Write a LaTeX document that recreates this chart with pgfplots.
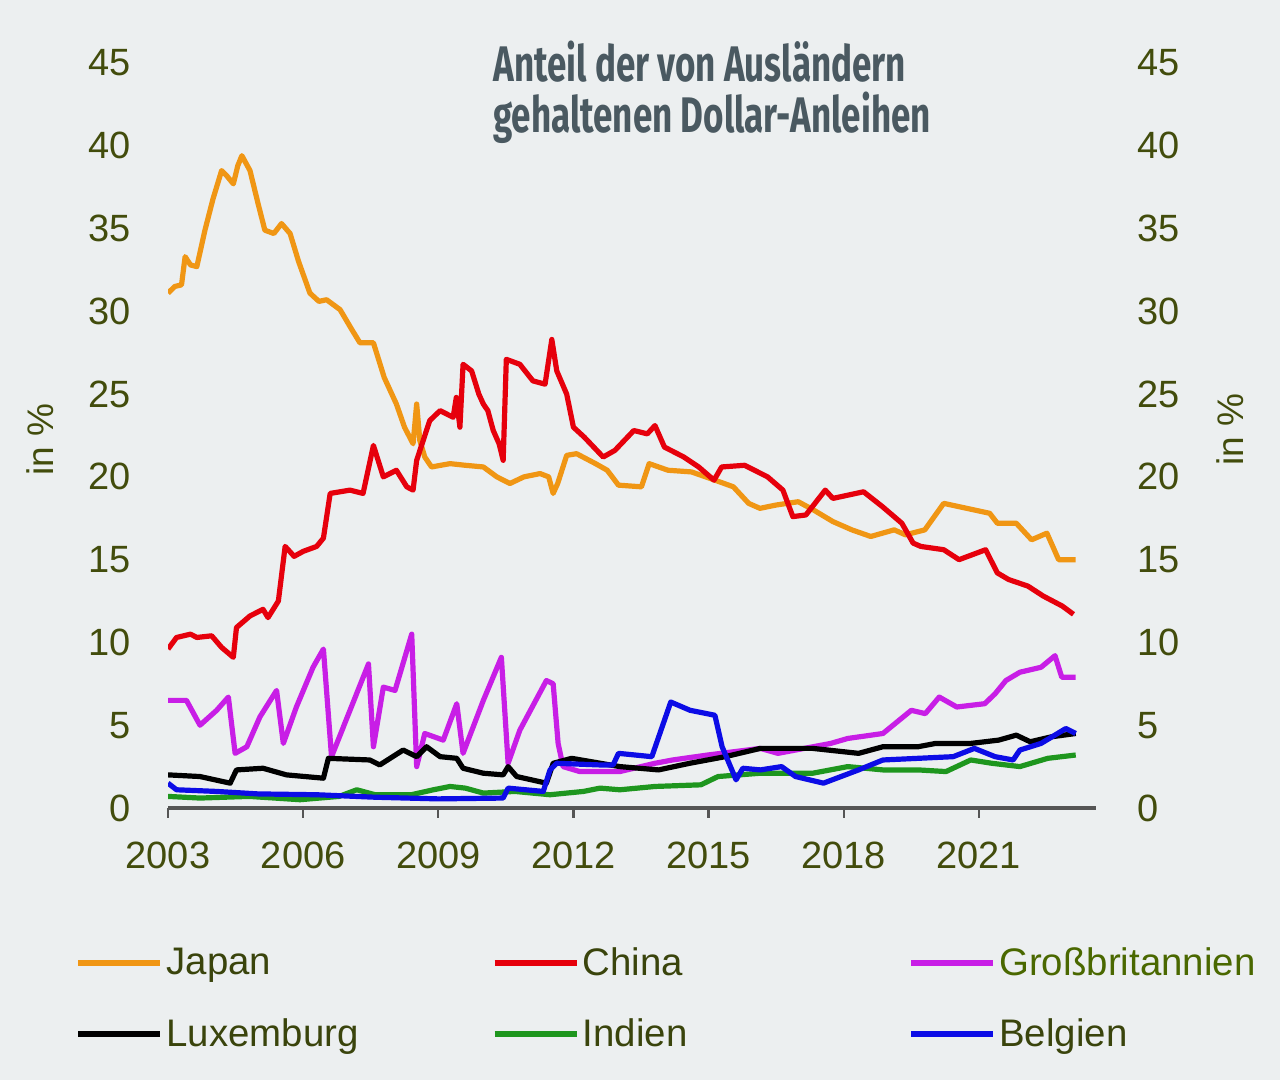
\documentclass[border=0pt]{standalone}
\usepackage{pgfplots}
\pgfplotsset{compat=1.18}
\usepackage{fontspec}
\setmainfont{Liberation Sans}
\newfontfamily\titlefont{Fira Sans}[FakeStretch=0.70]
\definecolor{bgc}{RGB}{236,239,240}
\definecolor{tickc}{RGB}{66,76,12}
\definecolor{legc}{RGB}{58,68,12}
\definecolor{gbc}{RGB}{74,104,0}
\definecolor{titc}{RGB}{74,89,97}
\definecolor{axc}{RGB}{85,85,85}
\definecolor{cjap}{RGB}{240,150,20}
\definecolor{cchi}{RGB}{230,0,12}
\definecolor{cgb}{RGB}{200,30,230}
\definecolor{clux}{RGB}{0,0,0}
\definecolor{cind}{RGB}{30,150,30}
\definecolor{cbel}{RGB}{12,12,230}

\pgfplotstableread{
x y
2003.0 31.1
2003.15 31.5
2003.3 31.6
2003.38 33.3
2003.5 32.8
2003.64 32.7
2003.82 34.9
2004.0 36.8
2004.19 38.5
2004.3 38.2
2004.45 37.7
2004.55 38.8
2004.64 39.4
2004.82 38.5
2005.0 36.5
2005.15 34.9
2005.35 34.7
2005.52 35.3
2005.71 34.7
2005.9 33.0
2006.15 31.1
2006.35 30.6
2006.52 30.7
2006.82 30.1
2007.08 28.9
2007.26 28.1
2007.56 28.1
2007.8 26.0
2008.07 24.4
2008.25 23.0
2008.44 22.0
2008.52 24.4
2008.59 22.2
2008.7 21.2
2008.85 20.6
2009.26 20.8
2009.6 20.7
2010.0 20.6
2010.3 20.0
2010.59 19.6
2010.9 20.0
2011.26 20.2
2011.45 20.0
2011.55 19.0
2011.65 19.6
2011.85 21.3
2012.07 21.4
2012.49 20.8
2012.75 20.4
2013.0 19.5
2013.51 19.4
2013.68 20.8
2014.1 20.4
2014.62 20.3
2015.04 19.9
2015.55 19.4
2015.89 18.4
2016.14 18.1
2016.5 18.3
2016.99 18.5
2017.33 18.0
2017.76 17.3
2018.18 16.8
2018.6 16.4
2019.12 16.8
2019.37 16.5
2019.8 16.8
2020.22 18.4
2020.56 18.2
2020.9 18.0
2021.24 17.8
2021.41 17.2
2021.83 17.2
2022.17 16.2
2022.51 16.6
2022.77 15.0
2023.15 15.0
}\japan

\pgfplotstableread{
x y
2003.0 9.6
2003.19 10.3
2003.5 10.5
2003.64 10.3
2003.97 10.4
2004.19 9.7
2004.45 9.1
2004.52 10.9
2004.82 11.6
2005.11 12.0
2005.22 11.5
2005.45 12.5
2005.6 15.8
2005.8 15.2
2006.0 15.5
2006.3 15.8
2006.45 16.3
2006.6 19.0
2007.04 19.2
2007.33 19.0
2007.56 21.9
2007.78 20.0
2008.07 20.4
2008.3 19.4
2008.44 19.2
2008.52 21.0
2008.81 23.4
2009.04 24.0
2009.33 23.6
2009.4 24.8
2009.48 23.0
2009.55 26.8
2009.74 26.4
2009.9 25.0
2010.0 24.4
2010.1 24.0
2010.22 22.8
2010.35 22.0
2010.44 21.0
2010.51 27.1
2010.81 26.8
2011.1 25.8
2011.37 25.6
2011.52 28.3
2011.63 26.4
2011.85 25.0
2012.0 23.0
2012.24 22.4
2012.66 21.2
2012.92 21.6
2013.34 22.8
2013.64 22.6
2013.81 23.1
2014.02 21.8
2014.45 21.2
2014.78 20.6
2015.12 19.8
2015.29 20.6
2015.8 20.7
2016.31 20.0
2016.65 19.2
2016.87 17.6
2017.16 17.7
2017.59 19.2
2017.76 18.7
2018.44 19.1
2018.86 18.2
2019.29 17.2
2019.54 16.0
2019.71 15.8
2020.22 15.6
2020.56 15.0
2021.15 15.6
2021.41 14.2
2021.66 13.8
2022.09 13.4
2022.43 12.8
2022.85 12.2
2023.1 11.7
}\china

\pgfplotstableread{
x y
2003.0 6.5
2003.41 6.5
2003.71 5.0
2004.08 5.9
2004.34 6.7
2004.49 3.3
2004.75 3.7
2005.04 5.5
2005.41 7.1
2005.56 3.9
2005.85 6.1
2006.22 8.5
2006.45 9.6
2006.63 3.1
2007.04 5.9
2007.45 8.7
2007.56 3.7
2007.78 7.3
2008.04 7.1
2008.41 10.5
2008.52 2.5
2008.7 4.5
2009.11 4.1
2009.41 6.3
2009.55 3.3
2010.0 6.5
2010.4 9.1
2010.55 2.7
2010.81 4.7
2011.4 7.7
2011.55 7.5
2011.66 3.9
2011.77 2.5
2012.14 2.2
2013.03 2.2
2013.81 2.7
2014.2 2.9
2014.98 3.2
2016.15 3.6
2016.54 3.3
2017.71 3.9
2018.09 4.2
2018.87 4.5
2019.5 5.9
2019.81 5.7
2020.12 6.7
2020.51 6.1
2021.13 6.3
2021.36 6.9
2021.6 7.7
2021.91 8.2
2022.38 8.5
2022.69 9.2
2022.84 7.9
2023.15 7.9
}\gb

\pgfplotstableread{
x y
2003.0 2.0
2003.71 1.9
2004.38 1.5
2004.52 2.3
2005.11 2.4
2005.63 2.0
2006.45 1.8
2006.56 3.0
2007.48 2.9
2007.7 2.6
2008.22 3.5
2008.52 3.1
2008.74 3.7
2009.04 3.1
2009.41 3.0
2009.55 2.4
2010.0 2.1
2010.44 2.0
2010.55 2.5
2010.74 1.9
2011.4 1.5
2011.55 2.7
2011.96 3.0
2013.03 2.5
2013.89 2.3
2014.58 2.7
2015.37 3.1
2016.15 3.6
2017.31 3.6
2018.33 3.3
2018.87 3.7
2019.65 3.7
2020.04 3.9
2020.82 3.9
2021.44 4.1
2021.83 4.4
2022.14 4.0
2022.61 4.3
2023.15 4.5
}\lux

\pgfplotstableread{
x y
2003.0 0.7
2003.71 0.6
2004.8 0.7
2005.93 0.5
2006.8 0.7
2007.19 1.1
2007.6 0.8
2008.4 0.8
2008.89 1.1
2009.26 1.3
2009.6 1.2
2010.0 0.9
2010.7 1.0
2011.48 0.8
2012.22 1.0
2012.59 1.2
2013.03 1.1
2013.81 1.3
2014.83 1.4
2015.21 1.9
2016.15 2.1
2017.31 2.1
2018.09 2.5
2018.87 2.3
2019.65 2.3
2020.27 2.2
2020.82 2.9
2021.29 2.7
2021.91 2.5
2022.53 3.0
2023.15 3.2
}\indien

\pgfplotstableread{
x y
2003.0 1.5
2003.19 1.1
2004.08 1.0
2005.0 0.85
2006.3 0.8
2007.6 0.65
2009.0 0.55
2010.44 0.6
2010.55 1.2
2011.33 1.0
2011.48 2.3
2011.63 2.7
2012.59 2.6
2012.88 2.6
2013.0 3.3
2013.74 3.1
2014.16 6.4
2014.59 5.9
2015.14 5.6
2015.3 3.7
2015.61 1.7
2015.76 2.4
2016.15 2.3
2016.62 2.5
2016.93 1.9
2017.55 1.5
2017.94 1.9
2018.33 2.3
2018.87 2.9
2019.65 3.0
2020.43 3.1
2020.9 3.6
2021.36 3.1
2021.76 2.9
2021.91 3.5
2022.38 3.9
2022.93 4.8
2023.15 4.5
}\belgien

\begin{document}
\begin{tikzpicture}[x=1pt,y=1pt]
\useasboundingbox[fill=bgc] (0,0) rectangle (640,540);

\begin{axis}[
  at={(84pt,136pt)}, anchor=south west, scale only axis,
  width=464pt, height=372.5pt,
  xmin=2003, xmax=2023.6, ymin=0, ymax=45,
  axis x line*=bottom, axis y line*=left,
  x axis line style={-, draw=axc, line width=1.6pt},
  y axis line style={draw=none},
  ytick={0,5,...,45}, ytick style={draw=none},
  xtick={2003,2006,...,2021},
  xtick style={draw=axc, line width=1.2pt},
  tick align=outside, major tick length=5pt,
  x tick label style={/pgf/number format/1000 sep={}},
  /pgf/number format/assume math mode=true,
  tick label style={font=\fontsize{19}{21}\selectfont, text=tickc},
  yticklabel style={xshift=-10pt},
  xticklabel style={yshift=-8.5pt},
  legend columns=3,
  legend cell align=left,
  legend style={at={(-0.107,-0.176)}, anchor=north west, draw=none, fill=none,
    font=\fontsize{19.2}{23}\selectfont, text=legc, row sep=16pt,
    /tikz/every even column/.append style={text width=161pt},
    nodes={inner xsep=1.5pt}},
  legend image code/.code={\draw[#1, line width=3.2pt] (0pt,0pt) -- (41pt,0pt);},
  every axis plot/.append style={line width=2.6pt, line join=round},
]
\addplot[cjap] table[x=x,y=y] {\japan};
\addlegendentry{Japan}
\addplot[cchi] table[x=x,y=y] {\china};
\addlegendentry{China}
\addplot[cgb] table[x=x,y=y] {\gb};
\addlegendentry{\textcolor{gbc}{Großbritannien}}
\addplot[clux] table[x=x,y=y] {\lux};
\addlegendentry{Luxemburg}
\addplot[cind] table[x=x,y=y] {\indien};
\addlegendentry{Indien}
\addplot[cbel] table[x=x,y=y] {\belgien};
\addlegendentry{Belgien}
\end{axis}

\begin{axis}[
  at={(84pt,136pt)}, anchor=south west, scale only axis,
  width=464pt, height=372.5pt,
  xmin=2003, xmax=2023.6, ymin=0, ymax=45,
  hide x axis,
  axis y line*=right,
  y axis line style={draw=none},
  ytick={0,5,...,45}, ytick style={draw=none},
  /pgf/number format/assume math mode=true,
  tick label style={font=\fontsize{19}{21}\selectfont, text=tickc},
  yticklabel style={xshift=17pt},
]
\addplot[draw=none] coordinates {(2003,0) (2023,0)};
\end{axis}

\node[rotate=90, font=\fontsize{18.5}{20}\selectfont, text=tickc] at (20,320) {in \%};
\node[rotate=90, font=\fontsize{18.5}{20}\selectfont, text=tickc] at (615,325) {in \%};

\node[anchor=base west, inner sep=0, text=titc, font=\titlefont\bfseries\fontsize{25}{28}\selectfont] at (246.5,499) {Anteil der von Ausländern};
\node[anchor=base west, inner sep=0, text=titc, font=\titlefont\bfseries\fontsize{25}{28}\selectfont] at (246.5,473.5) {gehaltenen Dollar-Anleihen};
\end{tikzpicture}
\end{document}
